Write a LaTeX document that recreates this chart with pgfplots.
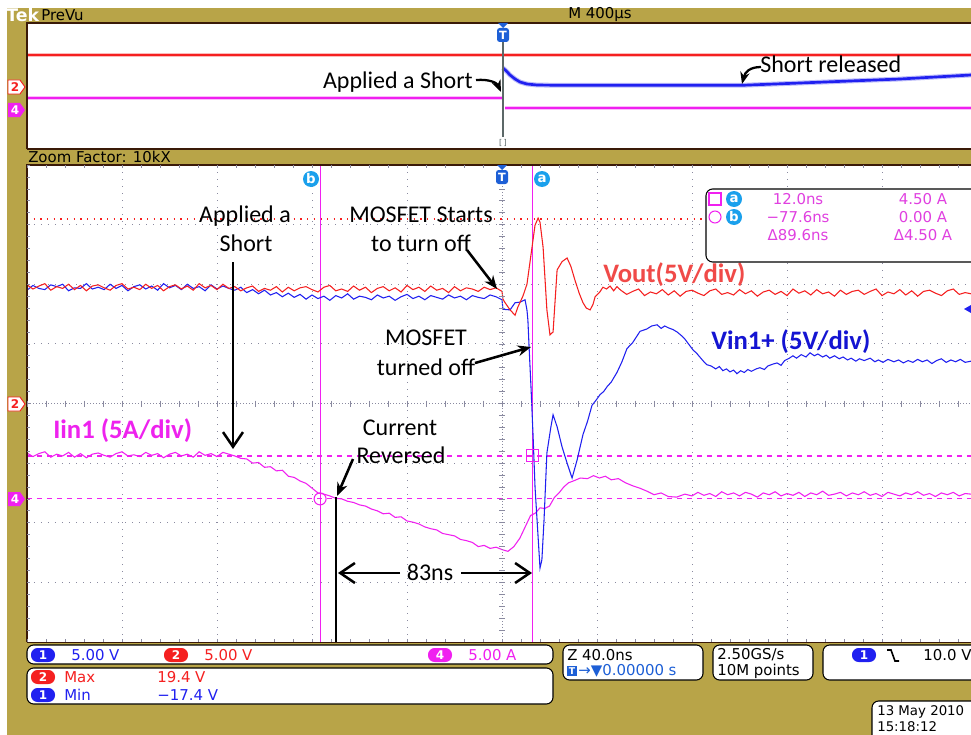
\documentclass[border=0pt]{standalone}
\usepackage{pgfplots}
\pgfplotsset{compat=1.18}
\usepackage{fontspec}
\setmainfont{DejaVu Sans}
\newfontfamily\anno{Carlito}
\usetikzlibrary{arrows.meta}
\definecolor{beige}{HTML}{B8A448}
\definecolor{frame}{HTML}{3A1A08}
\definecolor{cRed}{HTML}{F52020}
\definecolor{cBlue}{HTML}{2020F0}
\definecolor{cMag}{HTML}{F020F0}
\definecolor{lRed}{HTML}{F04A48}
\definecolor{lBlue}{HTML}{1414D2}
\definecolor{lMag}{HTML}{EE22EE}
\definecolor{mMag}{HTML}{E040E0}
\definecolor{cyanb}{HTML}{1AA0EC}
\definecolor{tblue}{HTML}{1D5FD6}
\definecolor{tgray}{HTML}{5C6868}
\definecolor{gridc}{HTML}{8A8AA0}
\tikzset{
  ui/.style={font=\fontsize{11.2}{12}\selectfont, inner sep=0pt},
  an/.style={font=\anno\fontsize{18}{20}\selectfont, inner sep=0pt},
  lab/.style={font=\anno\bfseries\fontsize{20}{22}\selectfont, inner sep=0pt},
  arr/.style={line width=1.9pt, -{Stealth[length=10pt,width=8pt]}},
  barb/.style={line width=1.9pt, -{Straight Barb[length=11pt,width=15pt]}},
}
\newcommand{\pill}[4]{\node[fill=#3, rounded corners=5pt, minimum width=18pt, minimum height=10.5pt, inner sep=0pt, text=white, font=\bfseries\fontsize{9}{10}\selectfont] at (#1,#2) {#4};}
\newcommand{\cmark}[3]{\node[circle, fill=cyanb, minimum size=12pt, inner sep=0pt, text=white, font=\bfseries\fontsize{10}{10}\selectfont] at (#1,#2) {#3};}
\begin{document}
\begin{tikzpicture}
\useasboundingbox (0,0) rectangle (728.25pt,-551.25pt);
\begin{scope}[x=0.75pt,y=-0.75pt]
\fill[white] (0,0) rectangle (971,735);
\fill[beige] (7,8) rectangle (971,735);
\fill[white] (27,23) rectangle (975,149);
\fill[white] (27,165) rectangle (975,642);
\end{scope}

% ---------- preview (top) panel ----------
\begin{axis}[at={(20.25pt,-17.25pt)}, anchor=north west, width=708pt, height=94.5pt,
  scale only axis, xmin=-2000, xmax=1974.7, ymin=0, ymax=126, y dir=reverse, hide axis]
\addplot[cRed!30, line width=3.6pt] coordinates {(-2000,32) (1974.7,32)};
\addplot[cRed, line width=2pt] coordinates {(-2000,32) (1974.7,32)};
\addplot[cMag!30, line width=3.6pt] coordinates {(-2000,75) (4.2,75)};
\addplot[cMag, line width=2pt] coordinates {(-2000,75) (4.2,75)};
\addplot[cMag!30, line width=3.6pt] coordinates {(12.6,85) (1974.7,85)};
\addplot[cMag, line width=2pt] coordinates {(12.6,85) (1974.7,85)};
\addplot[cBlue!30, line width=3.6pt] coordinates {(4.2,45) (20,48.5) (33.7,52) (55,56) (75.8,59) (105,61) (147,62) (244,62.3) (600,62.2) (1010,62.3) (1255,60) (1676,56) (1974.7,52)};
\addplot[cBlue, line width=2pt] coordinates {(4.2,45) (20,48.5) (33.7,52) (55,56) (75.8,59) (105,61) (147,62) (244,62.3) (600,62.2) (1010,62.3) (1255,60) (1676,56) (1974.7,52)};
\end{axis}

% ---------- zoom (main) panel ----------
\begin{axis}[at={(20.25pt,-123.75pt)}, anchor=north west, width=708pt, height=357.75pt,
  scale only axis, xmin=-200, xmax=197.47, ymin=-4, ymax=4,
  axis line style={draw=none}, tick style={draw=none}, major tick length=0pt,
  xtick={-160,-120,-80,-40,40,80,120,160}, ytick={-3,-2,-1,1,2,3},
  xticklabels={}, yticklabels={},
  grid=major, major grid style={gridc, line width=0.6pt, dash pattern=on 0.75pt off 4.5pt}]
% cursor lines
\draw[cRed, line width=0.8pt, dash pattern=on 1pt off 4pt] (axis cs:-200,3.094) -- (axis cs:197.47,3.094);
\draw[cMag, line width=0.9pt, dash pattern=on 4pt off 3.5pt] (axis cs:-200,-0.88) -- (axis cs:197.47,-0.88);
\draw[cMag, line width=0.9pt, dash pattern=on 4pt off 3.5pt] (axis cs:-200,-1.60) -- (axis cs:197.47,-1.60);
\draw[cMag, line width=0.75pt] (axis cs:-76.6,-4) -- (axis cs:-76.6,4);
\draw[cMag, line width=0.75pt] (axis cs:13.0,-4) -- (axis cs:13.0,4);
% Iin1
\addplot[cMag, line width=0.8pt] coordinates {
(-200,-0.83) (-197.5,-0.89) (-195,-0.84) (-192.5,-0.81) (-190,-0.90) (-187.5,-0.85) (-185,-0.88) (-182.5,-0.82) (-180,-0.90) (-177.5,-0.84) (-175,-0.91) (-172.5,-0.85) (-170,-0.83) (-167.5,-0.87) (-165,-0.90) (-162.5,-0.84) (-160,-0.81) (-157.5,-0.88) (-155,-0.86) (-152.5,-0.89) (-150,-0.82) (-147.5,-0.87) (-145,-0.84) (-142.5,-0.91) (-140,-0.85) (-137.5,-0.82) (-135,-0.88) (-132.5,-0.85) (-130,-0.90) (-127.5,-0.81) (-125,-0.87) (-122.5,-0.84) (-120,-0.89) (-117.5,-0.82) (-115,-0.85)
(-112.5,-0.88) (-110,-0.92) (-107.5,-0.93) (-105,-1.00) (-102.5,-0.99) (-100,-1.07) (-97.5,-1.06) (-95,-1.13) (-92.5,-1.12) (-90,-1.22) (-87.5,-1.24) (-85,-1.30) (-82.5,-1.34) (-80,-1.42) (-77.5,-1.50) (-75,-1.52) (-72.5,-1.55) (-70,-1.59) (-67.5,-1.60) (-65,-1.64) (-62.5,-1.66) (-60,-1.70) (-57.5,-1.72) (-55,-1.77) (-52.5,-1.80) (-50,-1.85) (-47.5,-1.84) (-45,-1.91) (-42.5,-1.90) (-40,-1.97) (-37.5,-1.99) (-35,-2.02) (-32.5,-2.07) (-30,-2.10) (-27.5,-2.12) (-25,-2.18) (-22.5,-2.20) (-20,-2.22) (-17.5,-2.28) (-15,-2.30) (-12.5,-2.33) (-10,-2.40) (-7.5,-2.38) (-5,-2.43) (-2.5,-2.41) (0,-2.45) (2.5,-2.48) (5,-2.40) (7.5,-2.26) (10,-2.05) (12,-1.88) (14,-1.84) (16,-1.75) (18,-1.76) (20,-1.72) (22,-1.58) (24,-1.50) (26,-1.40) (28,-1.33) (30,-1.30) (33,-1.25) (36,-1.26) (38.5,-1.21) (41,-1.25) (43.5,-1.22) (46,-1.28) (49,-1.26) (52,-1.33) (55,-1.38) (58,-1.42) (61,-1.47) (64,-1.53) (67,-1.50) (70,-1.56) (73.5,-1.57) (77,-1.52) (80,-1.55) (82.5,-1.49) (85,-1.54) (87.5,-1.51) (90,-1.56) (92.5,-1.48) (95,-1.53) (97.5,-1.50) (100,-1.55) (102.5,-1.49) (105,-1.52) (107.5,-1.57) (110,-1.50) (112.5,-1.53) (115,-1.48) (117.5,-1.55) (120,-1.51) (122.5,-1.54) (125,-1.49) (127.5,-1.56) (130,-1.50) (132.5,-1.53) (135,-1.47) (137.5,-1.54) (140,-1.52) (142.5,-1.49) (145,-1.55) (147.5,-1.50) (150,-1.53) (152.5,-1.48) (155,-1.54) (157.5,-1.51) (160,-1.56) (162.5,-1.49) (165,-1.52) (167.5,-1.55) (170,-1.50) (172.5,-1.53) (175,-1.48) (177.5,-1.54) (180,-1.51) (182.5,-1.56) (185,-1.50) (187.5,-1.53) (190,-1.49) (192.5,-1.55) (195,-1.51) (197.5,-1.52)};
% Vin1+
\addplot[cBlue, line width=0.8pt] coordinates {
(-200,1.90) (-197.5,1.98) (-195,1.93) (-192.5,1.91) (-190,1.99) (-187.5,1.96) (-185,2.00) (-182.5,1.89) (-180,1.94) (-177.5,1.93) (-175,2.01) (-172.5,1.92) (-170,1.95) (-167.5,1.91) (-165,2.00) (-162.5,1.93) (-160,1.98) (-157.5,1.89) (-155,1.96) (-152.5,1.99) (-150,1.92) (-147.5,1.97) (-145,1.90) (-142.5,2.01) (-140,1.94) (-137.5,1.98) (-135,1.91) (-132.5,2.00) (-130,1.93) (-127.5,1.96) (-125,1.89) (-122.5,1.99) (-120,1.92) (-117.5,1.97) (-115,1.93)
(-112.5,1.90) (-110,1.95) (-107.5,1.86) (-105,1.91) (-102.5,1.84) (-100,1.90) (-97.5,1.82) (-95,1.86) (-92.5,1.79) (-90,1.85) (-87.5,1.78) (-85,1.83) (-82.5,1.75) (-80,1.82) (-77.5,1.76) (-75,1.80) (-72.5,1.73) (-70,1.81) (-67.5,1.77) (-65,1.84) (-62.5,1.75) (-60,1.80) (-57.5,1.78) (-55,1.74) (-52.5,1.82) (-50,1.77) (-47.5,1.80) (-45,1.73) (-42.5,1.79) (-40,1.83) (-37.5,1.76) (-35,1.80) (-32.5,1.74) (-30,1.81) (-27.5,1.78) (-25,1.75) (-22.5,1.82) (-20,1.77) (-17.5,1.80) (-15,1.74) (-12.5,1.81) (-10,1.78) (-7.5,1.76) (-5,1.82) (-2.5,1.79) (0,1.74)
(0.4,1.58) (3.4,1.57) (5.5,1.69) (7.6,1.70) (9.7,1.74) (10.5,1.57) (10.9,1.40) (11.4,0.95) (12.2,0.28) (13.1,-0.56) (13.9,-1.40) (15.2,-2.24) (16.0,-2.76) (16.8,-2.62) (17.7,-1.95) (18.9,-0.83) (20.6,-0.39) (21.5,-0.19) (23.2,-0.39) (25.3,-0.73) (27.4,-1.0) (29.5,-1.25) (31.6,-0.95) (34.1,-0.52) (36,-0.30) (37.9,-0.03) (39.5,0.05) (41.3,0.15) (42.8,0.20) (44.2,0.28) (46,0.36) (48.4,0.52) (50.5,0.70) (52.6,0.92) (55,1.02) (58.1,1.21) (61,1.25) (63,1.30) (65.3,1.32) (67,1.26) (68.5,1.30) (70,1.27) (72,1.24) (73.7,1.20) (75.5,1.14) (77,1.08) (78.5,1.00) (80.4,0.90) (82,0.84) (83.5,0.77) (85,0.70) (86.3,0.65) (88,0.63) (90,0.58) (91.5,0.62) (93,0.55) (94.5,0.58) (96,0.53) (97.5,0.56) (98.9,0.50) (100.5,0.55) (102,0.52) (103.5,0.57) (105,0.54) (107,0.58) (108.6,0.60) (110.5,0.57) (112,0.63) (114,0.66) (115.8,0.68) (117.5,0.64) (119,0.72) (121,0.76) (122.5,0.80) (124,0.76) (126,0.82) (128,0.78) (129.7,0.85) (131.5,0.80) (133,0.83) (135,0.78) (136.5,0.81) (138,0.76) (140,0.80) (142,0.75) (143.6,0.78) (145.5,0.73) (147,0.76) (149,0.71) (150.5,0.75) (152.5,0.72) (155,0.76) (157,0.70) (158.5,0.73) (160.4,0.69) (162.5,0.74) (165,0.70) (167,0.73) (169,0.68) (171,0.72) (173,0.69) (175,0.74) (177,0.70) (179,0.73) (181,0.67) (183,0.72) (185,0.75) (187,0.69) (189,0.73) (191,0.70) (193,0.74) (195,0.69) (197.5,0.71)};
% Vout
\addplot[cRed, line width=0.8pt] coordinates {
(-200,1.99) (-197.5,1.92) (-195,1.97) (-192.5,2.01) (-190,1.90) (-187.5,1.96) (-185,1.93) (-182.5,2.00) (-180,1.91) (-177.5,1.98) (-175,1.89) (-172.5,1.97) (-170,1.99) (-167.5,1.94) (-165,1.90) (-162.5,1.98) (-160,2.01) (-157.5,1.92) (-155,1.95) (-152.5,1.91) (-150,2.00) (-147.5,1.93) (-145,1.98) (-142.5,1.89) (-140,1.96) (-137.5,1.99) (-135,1.92) (-132.5,1.97) (-130,1.90) (-127.5,2.01) (-125,1.94) (-122.5,1.98) (-120,1.91) (-117.5,2.00) (-115,1.93)
(-112.5,1.96) (-110,1.89) (-107.5,1.94) (-105,1.97) (-102.5,1.88) (-100,1.93) (-97.5,1.90) (-95,1.96) (-92.5,1.87) (-90,1.95) (-87.5,1.89) (-85,1.94) (-82.5,1.96) (-80,1.91) (-77.5,1.87) (-75,1.95) (-72.5,1.98) (-70,1.89) (-67.5,1.92) (-65,1.88) (-62.5,1.97) (-60,1.90) (-57.5,1.95) (-55,1.86) (-52.5,1.93) (-50,1.96) (-47.5,1.89) (-45,1.94) (-42.5,1.87) (-40,1.98) (-37.5,1.91) (-35,1.95) (-32.5,1.88) (-30,1.97) (-27.5,1.90) (-25,1.93) (-22.5,1.86) (-20,1.96) (-17.5,1.89) (-15,1.94) (-12.5,1.92) (-10,1.88) (-7.5,1.95) (-5,1.91) (-2.5,1.94) (0,1.88)
(0.4,1.75) (1.3,1.69) (3.4,1.57) (5.5,1.48) (6.7,1.62) (8.8,1.80) (10.5,2.0) (12.6,2.61) (13.9,2.99) (15.2,3.11) (16.0,3.04) (17.3,2.62) (18.9,1.57) (20.2,1.15) (21.5,1.20) (23.2,2.24) (25.3,2.38) (27.4,2.44) (29,2.30) (30.7,2.07) (32.5,1.85) (34.1,1.69) (35.5,1.60) (37.1,1.57) (38.3,1.66) (39.2,1.79) (41,1.86) (42.5,1.95) (44,1.92) (45.5,1.97) (47,1.89) (48.4,1.96)
(50,1.90) (52.5,1.83) (55,1.88) (57.5,1.92) (60,1.81) (62.5,1.87) (65,1.84) (67.5,1.91) (70,1.82) (72.5,1.89) (75,1.80) (77.5,1.88) (80,1.90) (82.5,1.85) (85,1.81) (87.5,1.89) (90,1.92) (92.5,1.83) (95,1.86) (97.5,1.82) (100,1.91) (102.5,1.84) (105,1.89) (107.5,1.80) (110,1.87) (112.5,1.90) (115,1.83) (117.5,1.88) (120,1.81) (122.5,1.92) (125,1.85) (127.5,1.89) (130,1.82) (132.5,1.91) (135,1.84) (137.5,1.87) (140,1.80) (142.5,1.90) (145,1.83) (147.5,1.88) (150,1.90) (152.5,1.83) (155,1.88) (157.5,1.92) (160,1.81) (162.5,1.87) (165,1.84) (167.5,1.91) (170,1.82) (172.5,1.89) (175,1.80) (177.5,1.88) (180,1.90) (182.5,1.85) (185,1.81) (187.5,1.89) (190,1.92) (192.5,1.83) (195,1.86) (197.5,1.84)};
% cursor markers
\draw[cMag, line width=0.8pt] (axis cs:13.0,-0.88) +(-4.5pt,-4.5pt) rectangle +(4.5pt,4.5pt);
\draw[cMag, line width=0.8pt] (axis cs:-76.6,-1.60) circle[radius=4.5pt];
\end{axis}

% ---------- overlays in pixel units ----------
\begin{scope}[x=0.75pt,y=-0.75pt]
% frames
\draw[frame, line width=0.9pt] (27,149) -- (27,23) -- (975,23);
\draw[frame, line width=0.9pt] (27,149) -- (975,149);
\draw[frame, line width=0.9pt] (27,642) -- (27,165) -- (975,165);
\draw[frame, line width=0.6pt] (27,642) -- (975,642);
% centre graticule lines with ticks
\draw[gridc, line width=0.6pt, dash pattern=on 0.75pt off 1.5pt] (27,403.5) -- (975,403.5);
\draw[gridc, line width=0.6pt, dash pattern=on 0.75pt off 1.5pt] (502,165) -- (502,642);
\foreach \x in {27,46,...,971} {\draw[gridc, line width=0.5pt] (\x,400.5) -- (\x,406.5); \draw[gridc, line width=0.5pt] (\x,165) -- (\x,168); \draw[gridc, line width=0.5pt] (\x,639) -- (\x,642);}
\foreach \y in {165,176.925,...,642} {\draw[gridc, line width=0.5pt] (499,\y) -- (505,\y); \draw[gridc, line width=0.5pt] (27,\y) -- (30,\y);}
% trigger line in preview
\draw[tgray, line width=2.2pt] (503,33) -- (503,137);
\node[text=tgray, font=\fontsize{6}{6}\selectfont, inner sep=0pt] at (503,143) {[\,]};
% T markers
\fill[tblue] (498,23) -- (508,23) -- (503,28) -- cycle;
\node[fill=tblue, rounded corners=2pt, minimum width=9pt, minimum height=10.5pt, inner sep=0pt, text=white, font=\bfseries\fontsize{8.5}{9}\selectfont] at (503,35) {T};
\fill[tblue] (497,165) -- (507,165) -- (502,170) -- cycle;
\node[fill=tblue, rounded corners=2pt, minimum width=9pt, minimum height=10.5pt, inner sep=0pt, text=white, font=\bfseries\fontsize{8.5}{9}\selectfont] at (502,177) {T};
\cmark{311}{179}{b}
\cmark{542}{179}{a}
% channel markers
\draw[cRed, fill=white, line width=0.7pt] (8,80) -- (20,80) -- (25,87) -- (20,94) -- (8,94) -- cycle;
\node[text=cRed, font=\bfseries\fontsize{9}{9}\selectfont, inner sep=0pt] at (15,87) {2};
\fill[cMag] (8,103) -- (20,103) -- (25,110) -- (20,117) -- (8,117) -- cycle;
\node[text=white, font=\bfseries\fontsize{9}{9}\selectfont, inner sep=0pt] at (15,110) {4};
\draw[cRed, fill=white, line width=0.7pt] (8,397) -- (20,397) -- (25,404) -- (20,411) -- (8,411) -- cycle;
\node[text=cRed, font=\bfseries\fontsize{9}{9}\selectfont, inner sep=0pt] at (15,404) {2};
\fill[cMag] (8,492) -- (20,492) -- (25,499) -- (20,506) -- (8,506) -- cycle;
\node[text=white, font=\bfseries\fontsize{9}{9}\selectfont, inner sep=0pt] at (15,499) {4};
\fill[cBlue] (964,309) -- (971,305) -- (971,313) -- cycle;
% top bar text
\node[anchor=west, text=white, font=\bfseries\fontsize{13}{14}\selectfont, inner sep=0pt] at (6,15) {Tek};
\node[ui, anchor=west] at (41,15) {PreVu};
\node[ui, anchor=west] at (568,15) {M 400µs};
\node[ui, anchor=west] at (28,157) {Zoom Factor: 10kX};
% annotations
\node[an, anchor=base east] at (473,89) {Applied a Short};
\draw[line width=1.7pt, -{Stealth[length=9pt,width=7pt]}] (476,80) .. controls (490,79) and (497,83) .. (501,92);
\node[an, anchor=base west] at (760,73) {Short released};
\draw[line width=1.7pt, -{Stealth[length=9pt,width=7pt]}] (761,67) .. controls (750,67) and (745,72) .. (742,84);
\node[an, anchor=base] at (245,222) {Applied a};
\node[an, anchor=base] at (246,251) {Short};
\draw[barb] (233,262) -- (233,449);
\node[an, anchor=base] at (421,222) {MOSFET Starts};
\node[an, anchor=base] at (421,251) {to turn off};
\draw[arr] (467,250) -- (497,289);
\node[an, anchor=base] at (426,345) {MOSFET};
\node[an, anchor=base] at (426,375) {turned off};
\draw[arr] (475,363) -- (531,347);
\node[an, anchor=base] at (400,435) {Current};
\node[an, anchor=base] at (401,463) {Reversed};
\draw[arr] (353,459) -- (337,496);
\draw[line width=1.5pt] (336,497) -- (336,642);
\draw[barb] (400,573) -- (338,573);
\draw[barb] (461,573) -- (532,573);
\node[an] at (430,572) {83ns};
\node[lab, text=lRed, anchor=base west] at (603,282) {Vout(5V/div)};
\node[lab, text=lBlue, anchor=base west] at (711,349) {Vin1+ (5V/div)};
\node[lab, text=lMag, anchor=base west] at (53,438) {Iin1 (5A/div)};
% measurement box
\draw[fill=white, line width=0.8pt, rounded corners=5pt] (706,189) rectangle (985,262);
\draw[cMag, line width=0.8pt] (709,193) rectangle (721,205);
\draw[cMag, line width=0.8pt] (715,217) circle[radius=6];
\cmark{734}{199}{a}
\cmark{734}{217}{b}
\node[ui, text=mMag] at (798,199) {12.0ns};
\node[ui, text=mMag] at (923,199) {4.50 A};
\node[ui, text=mMag] at (798,217) {−77.6ns};
\node[ui, text=mMag] at (923,217) {0.00 A};
\node[ui, text=mMag] at (798,235) {Δ89.6ns};
\node[ui, text=mMag] at (923,235) {Δ4.50 A};
% bottom boxes
\draw[fill=white, line width=0.8pt, rounded corners=5pt] (27,645) rectangle (553,664);
\pill{43}{655}{cBlue}{1}
\node[ui, anchor=west, text=cBlue] at (71,655) {5.00 V};
\pill{176}{655}{cRed}{2}
\node[ui, anchor=west, text=cRed] at (204,655) {5.00 V};
\pill{440}{655}{cMag}{4}
\node[ui, anchor=west, text=cMag] at (468,655) {5.00 A};
\draw[fill=white, line width=0.8pt, rounded corners=5pt] (27,668) rectangle (553,704);
\pill{43}{677}{cRed}{2}
\node[ui, anchor=west, text=cRed] at (64,677) {Max};
\node[ui, anchor=west, text=cRed] at (157,677) {19.4 V};
\pill{43}{695}{cBlue}{1}
\node[ui, anchor=west, text=cBlue] at (64,695) {Min};
\node[ui, anchor=west, text=cBlue] at (157,695) {−17.4 V};
\draw[fill=white, line width=0.8pt, rounded corners=5pt] (563,645) rectangle (703,680);
\node[ui, anchor=west] at (567,655) {Z 40.0ns};
\node[fill=tblue, minimum width=7.5pt, minimum height=7.5pt, inner sep=0pt, text=white, font=\bfseries\fontsize{7}{7}\selectfont] at (572,671) {T};
\node[ui, anchor=west, text=tblue] at (578,671) {→▼0.00000 s};
\draw[fill=white, line width=0.8pt, rounded corners=5pt] (713,645) rectangle (813,680);
\node[ui, anchor=west] at (717,655) {2.50GS/s};
\node[ui, anchor=west] at (717,671) {10M points};
\draw[fill=white, line width=0.8pt, rounded corners=5pt] (823,645) rectangle (985,680);
\pill{864}{655}{cBlue}{1}
\draw[line width=1.2pt] (887,650) -- (891,650) -- (895,661) -- (899,661);
\node[ui, anchor=west] at (923,655) {10.0 V};
\draw[fill=white, line width=0.8pt, rounded corners=5pt] (872,701) rectangle (985,745);
\node[anchor=west, inner sep=0pt, font=\fontsize{10}{11}\selectfont] at (877,712) {13 May 2010};
\node[anchor=west, inner sep=0pt, font=\fontsize{10}{11}\selectfont] at (877,727) {15:18:12};
\end{scope}
\end{tikzpicture}
\end{document}
